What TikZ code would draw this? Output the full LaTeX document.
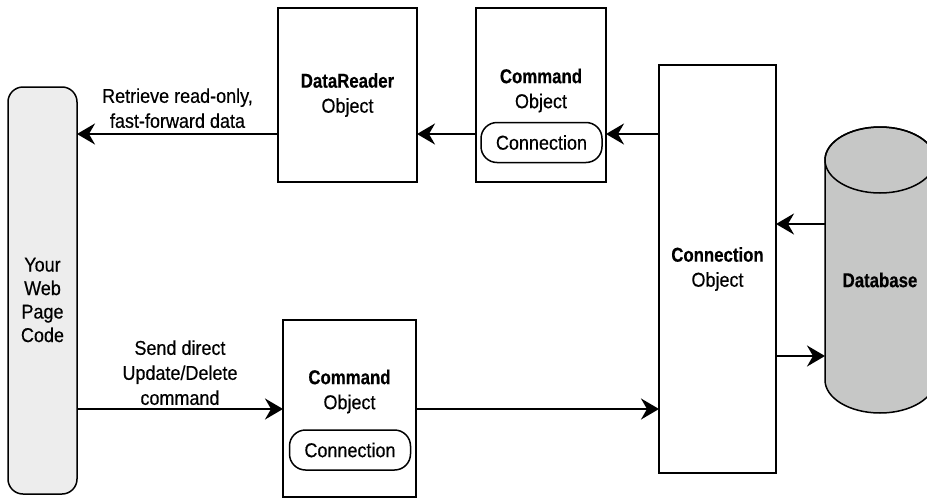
\documentclass[tikz,border=0pt]{standalone}
\usepackage{fontspec}
\setmainfont{Liberation Sans}[FakeStretch=0.9, FakeBold=0.4, BoldFeatures={FakeStretch=0.84}]
\usetikzlibrary{arrows.meta,positioning}
\definecolor{webgray}{HTML}{EDEDED}
\definecolor{dbgray}{HTML}{C6C7C6}

\begin{document}
\begin{tikzpicture}[
            x=1pt, y=-1pt,
            font=\fontsize{20}{25}\selectfont,
            block/.style={rectangle, draw, line width=1.5pt, align=center, inner sep=0pt, outer sep=0pt},
            pill/.style={rectangle, draw, line width=1.5pt, rounded corners=16pt, minimum width=121pt, minimum height=40pt, inner sep=0pt, outer sep=0pt},
            lbl/.style={align=center, inner sep=2pt},
            arrow/.style={-{Stealth[length=18pt, width=21pt, inset=6pt]}, line width=2pt}
        ]
            \useasboundingbox (0,0) rectangle (927,498);

            % database cylinder, cut by the right border
            \begin{scope}
                \clip (0,0) rectangle (927,498);
                \filldraw[fill=dbgray, line width=1.5pt] (825,160) -- (825,380)
                    arc[start angle=180, end angle=360, x radius=55pt, y radius=33pt]
                    -- (935,160)
                    arc[start angle=0, end angle=180, x radius=55pt, y radius=33pt] -- cycle;
                \draw[line width=1.5pt] (880,160) ellipse [x radius=55pt, y radius=33pt];
            \end{scope}
            \node[font=\fontsize{20}{25}\selectfont\bfseries, minimum width=110pt, minimum height=200pt, inner sep=0pt, outer sep=0pt] (db) at (880,280) {Database};

            \node[block, fill=webgray, rounded corners=15pt, minimum width=69pt, minimum height=407pt] (web) at (42.5,290.5) {};
            \node[lbl, font=\fontsize{20}{23.5}\selectfont] (webtxt) at (42.5,300) {Your\\Web\\Page\\Code};
            \node[block, minimum width=139pt, minimum height=174pt] (reader) at (347.5,95) {\textbf{DataReader}\\Object};
            \node[block, minimum width=130pt, minimum height=174pt] (cmdtop) at (541,95) {};
            \node[lbl] (cmdtoptxt) at (541,90.5) {\textbf{Command}\\Object};
            \node[pill] (conntop) at (541.5,142.5) {Connection};
            \node[block, minimum width=117pt, minimum height=408pt] (conn) at (717.5,269) {\textbf{Connection}\\Object};
            \node[block, minimum width=133pt, minimum height=177pt] (cmdbot) at (349.5,408.5) {};
            \node[lbl] (cmdbottxt) at (349.5,391.5) {\textbf{Command}\\Object};
            \node[pill] (connbot) at (350,450) {Connection};

            \coordinate (toprow) at (0,134);
            \coordinate (botrow) at (0,409);
            \coordinate (dbin) at (0,224);
            \coordinate (dbout) at (0,356);

            \draw[arrow] (conn.west |- toprow) -- (cmdtop.east |- toprow);
            \draw[arrow] (cmdtop.west |- toprow) -- (reader.east |- toprow);
            \draw[arrow] (reader.west |- toprow) -- node[lbl, above=3pt] {Retrieve read-only,\\fast-forward data} (web.east |- toprow);
            \draw[arrow] (web.east |- botrow) -- node[lbl, above=1pt] {Send direct\\Update/Delete\\command} (cmdbot.west |- botrow);
            \draw[arrow] (cmdbot.east |- botrow) -- (conn.west |- botrow);
            \draw[arrow] (db.west |- dbin) -- (conn.east |- dbin);
            \draw[arrow] (conn.east |- dbout) -- (db.west |- dbout);
        \end{tikzpicture}
\end{document}
